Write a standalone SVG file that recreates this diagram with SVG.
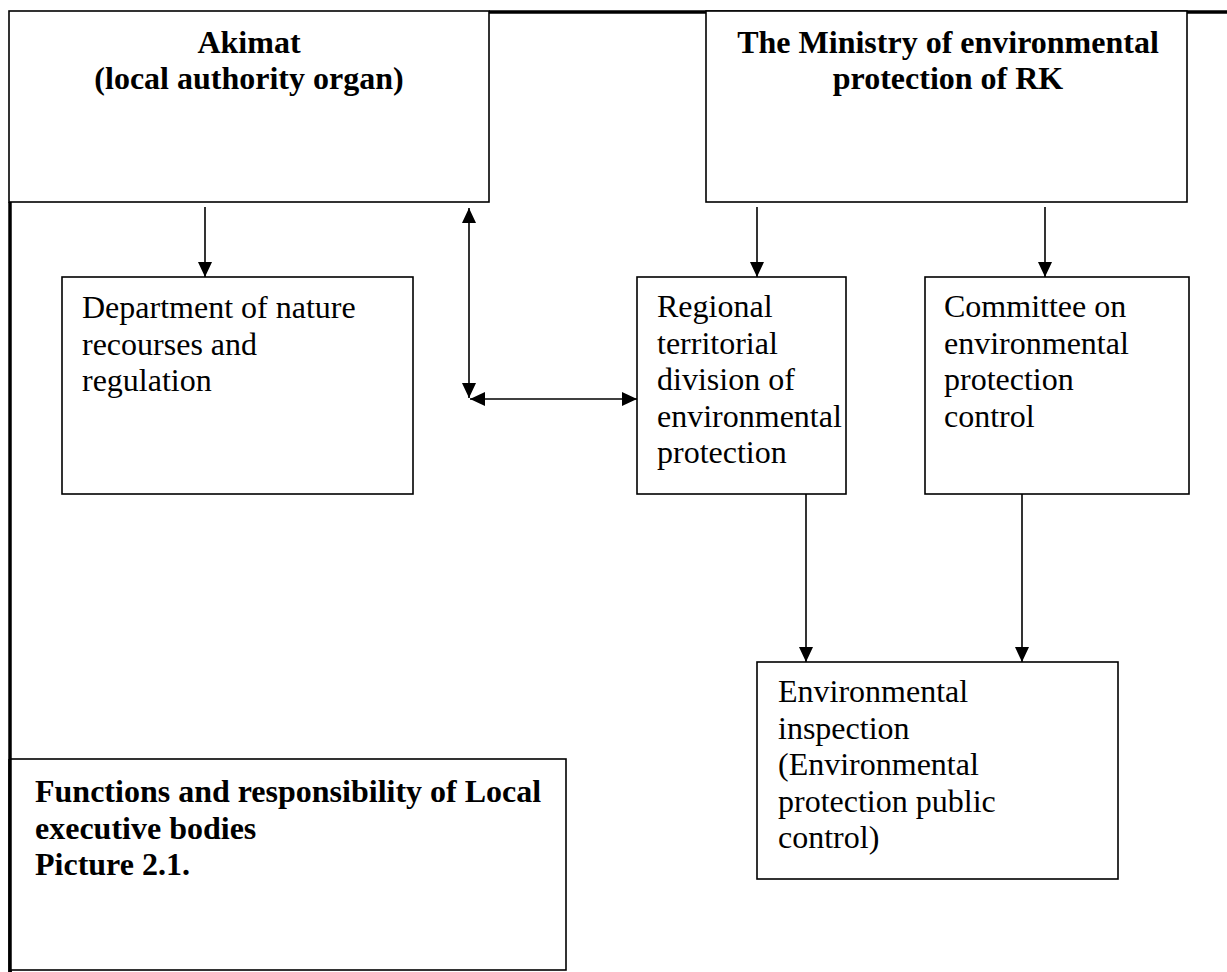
<svg xmlns="http://www.w3.org/2000/svg" width="1227" height="972" viewBox="0 0 1227 972">
<style>
.box{fill:#fff;stroke:#000;stroke-width:1.6}
.t{font-family:"Liberation Serif","Times New Roman",serif;font-size:32px;fill:#000}
.b{font-weight:bold}
.c{stroke:#000;stroke-width:1.6;fill:none}
.frame{stroke:#000;stroke-width:3.5;fill:none}
</style>
<defs>
<marker id="ah" viewBox="0 0 15 14" refX="15" refY="7" markerWidth="15" markerHeight="14" markerUnits="userSpaceOnUse" orient="auto-start-reverse">
<path d="M0,0 L15,7 L0,14 z" fill="#000"/>
</marker>
</defs>
<rect width="1227" height="972" fill="#fff"/>
<g id="frame">
<line class="frame" x1="489" y1="12" x2="1227" y2="12"/>
<line class="frame" x1="10" y1="202" x2="10" y2="972"/>
</g>
<g id="akimat">
<rect class="box" x="9" y="11" width="480" height="191"/>
<text class="t b" x="249" y="53" text-anchor="middle">Akimat</text>
<text class="t b" x="249" y="89" text-anchor="middle">(local authority organ)</text>
</g>
<g id="ministry">
<rect class="box" x="706" y="11" width="481" height="191"/>
<text class="t b" x="948" y="53" text-anchor="middle">The Ministry of environmental</text>
<text class="t b" x="948" y="89" text-anchor="middle">protection of RK</text>
</g>
<g id="department">
<rect class="box" x="62" y="277" width="351" height="217"/>
<text class="t" x="82" y="318">Department of nature</text>
<text class="t" x="82" y="354.5">recourses and</text>
<text class="t" x="82" y="391">regulation</text>
</g>
<g id="regional">
<rect class="box" x="637" y="277" width="209" height="217"/>
<text class="t" x="657" y="317">Regional</text>
<text class="t" x="657" y="353.5">territorial</text>
<text class="t" x="657" y="390">division of</text>
<text class="t" x="657" y="426.5">environmental</text>
<text class="t" x="657" y="463">protection</text>
</g>
<g id="committee">
<rect class="box" x="925" y="277" width="264" height="217"/>
<text class="t" x="944" y="317">Committee on</text>
<text class="t" x="944" y="353.5">environmental</text>
<text class="t" x="944" y="390">protection</text>
<text class="t" x="944" y="426.5">control</text>
</g>
<g id="inspection">
<rect class="box" x="757" y="662" width="361" height="217"/>
<text class="t" x="778" y="702">Environmental</text>
<text class="t" x="778" y="738.5">inspection</text>
<text class="t" x="778" y="775">(Environmental</text>
<text class="t" x="778" y="811.5">protection public</text>
<text class="t" x="778" y="848">control)</text>
</g>
<g id="functions">
<rect class="box" x="10" y="759" width="556" height="211"/>
<line class="frame" x1="10" y1="759" x2="10" y2="972"/>
<text class="t b" x="35" y="802">Functions and responsibility of Local</text>
<text class="t b" x="35" y="838.5">executive bodies</text>
<text class="t b" x="35" y="875">Picture 2.1.</text>
</g>
<g id="connectors">
<line class="c" x1="205" y1="207" x2="205" y2="277" marker-end="url(#ah)"/>
<line class="c" x1="757" y1="207" x2="757" y2="277" marker-end="url(#ah)"/>
<line class="c" x1="1045" y1="207" x2="1045" y2="277" marker-end="url(#ah)"/>
<line class="c" x1="469" y1="208" x2="469" y2="398" marker-start="url(#ah)" marker-end="url(#ah)"/>
<line class="c" x1="470" y1="399" x2="637" y2="399" marker-start="url(#ah)" marker-end="url(#ah)"/>
<line class="c" x1="806" y1="494" x2="806" y2="662" marker-end="url(#ah)"/>
<line class="c" x1="1022" y1="494" x2="1022" y2="662" marker-end="url(#ah)"/>
</g>
</svg>
